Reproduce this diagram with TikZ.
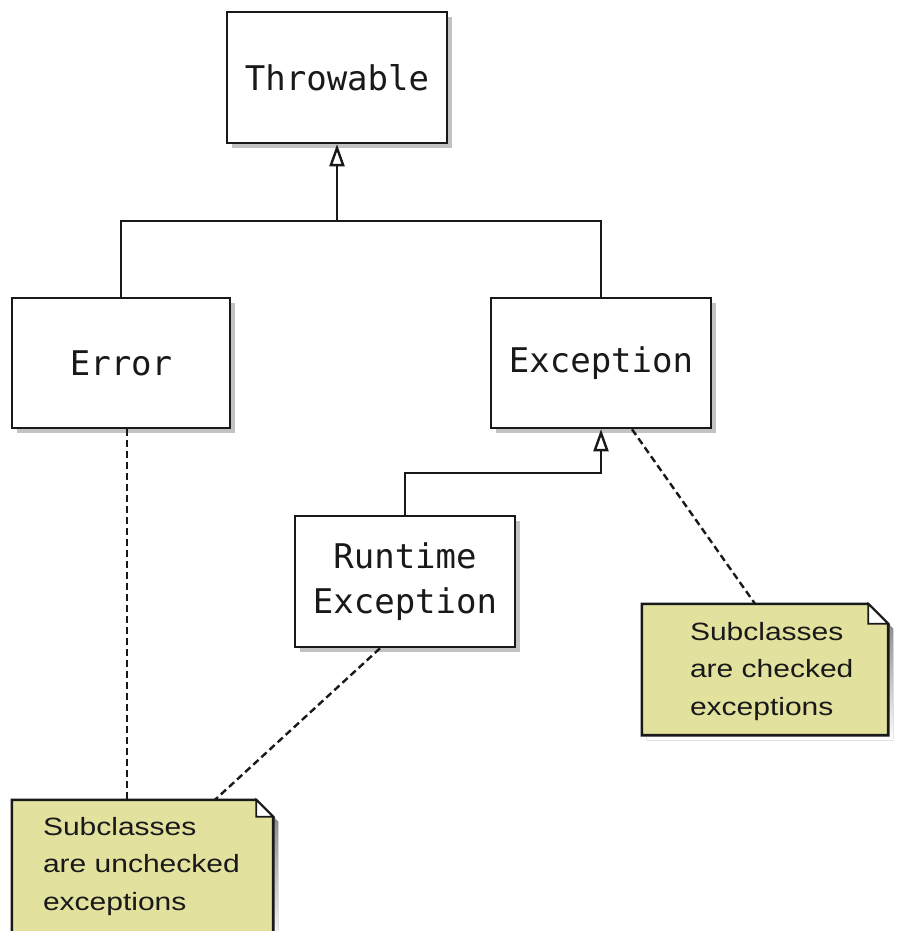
\documentclass[tikz,border=0pt]{standalone}
\usepackage{fontspec}
\newfontfamily\clsfont{DejaVu Sans Mono}
\newfontfamily\notefont[FakeStretch=1.2]{Liberation Sans}
\usetikzlibrary{arrows.meta,shadows,calc}
\definecolor{notefill}{RGB}{226,226,158}
\definecolor{shade}{RGB}{195,195,195}
\definecolor{ink}{RGB}{25,25,25}
\newcommand\drawnote[2]{%
  \fill[shade] ([xshift=5pt,yshift=-5pt]#1.north west) -- ([xshift={5pt-#2pt},yshift=-5pt]#1.north east)
     -- ([xshift=5pt,yshift={-5pt-#2pt}]#1.north east) -- ([xshift=5pt,yshift=-5pt]#1.south east)
     -- ([xshift=5pt,yshift=-5pt]#1.south west) -- cycle;
  \draw[ink, line width=2.6pt, fill=notefill, line join=miter] (#1.north west) -- ([xshift=-#2pt]#1.north east)
     -- ([yshift=-#2pt]#1.north east) -- (#1.south east) -- (#1.south west) -- cycle;
  \draw[ink, line width=1.8pt, fill=white] ([xshift=-#2pt]#1.north east) -- ([xshift=-#2pt,yshift=-#2pt]#1.north east)
     -- ([yshift=-#2pt]#1.north east) -- cycle;
}
\begin{document}
\begin{tikzpicture}[x=1pt,y=-1pt,
  cls/.style={draw=ink, line width=2.6pt, fill=white, minimum width=220pt, minimum height=131pt,
    inner sep=0pt, align=center, text=ink, font=\clsfont\fontsize{34}{45}\selectfont,
    drop shadow={shadow xshift=5pt, shadow yshift=-5pt, fill=shade, opacity=1}},
  notebox/.style={inner sep=0pt, draw=none},
  notetext/.style={inner sep=0pt, align=left, text=ink, font=\notefont\fontsize{25}{37.5}\selectfont},
  link/.style={draw=ink, line width=2.6pt},
  gen/.style={-{Triangle[open, length=22pt, width=15pt, line width=2.4pt]}},
  noteline/.style={draw=ink, line width=2.4pt, dash pattern=on 7pt off 4pt}]
\useasboundingbox (0,0) rectangle (899,931);

\node[cls] (thr) at (337,77.5) {Throwable};
\node[cls, minimum width=218pt, minimum height=130pt] (err) at (121,363) {Error};
\node[cls, minimum width=220pt, minimum height=130pt] (exc) at (601,363) {Exception};
\node[cls, minimum height=131pt] (rt) at (405,581.5) {Runtime\\Exception};

\coordinate (j) at (337,221);
\coordinate (k) at (601,473);
\draw[link] (err.north) |- (j) -| (exc.north);
\draw[link, gen] (j) -- (thr.south);
\draw[link, gen] (rt.north) |- (k) -- (exc.south);

\node[notebox, minimum width=246pt, minimum height=131pt] (n1) at (765,669.5) {};
\node[notebox, minimum width=261pt, minimum height=140pt] (n2) at (142.5,870) {};

\draw[noteline] ([xshift=31pt]exc.south) -- ([xshift=-10pt]n1.north);
\draw[noteline] ([xshift=6pt]err.south) -- ([xshift=-15.5pt]n2.north);
\draw[noteline] ([xshift=-25pt]rt.south) -- ([xshift=72.5pt]n2.north);

\drawnote{n1}{20}
\drawnote{n2}{17}

\node[notetext, anchor=north west] (t1) at ([xshift=48pt,yshift=-18pt]n1.north west) {Subclasses\\are checked\\exceptions};
\node[notetext, anchor=north west] (t2) at ([xshift=31pt,yshift=-17pt]n2.north west) {Subclasses\\are unchecked\\exceptions};
\end{tikzpicture}
\end{document}
